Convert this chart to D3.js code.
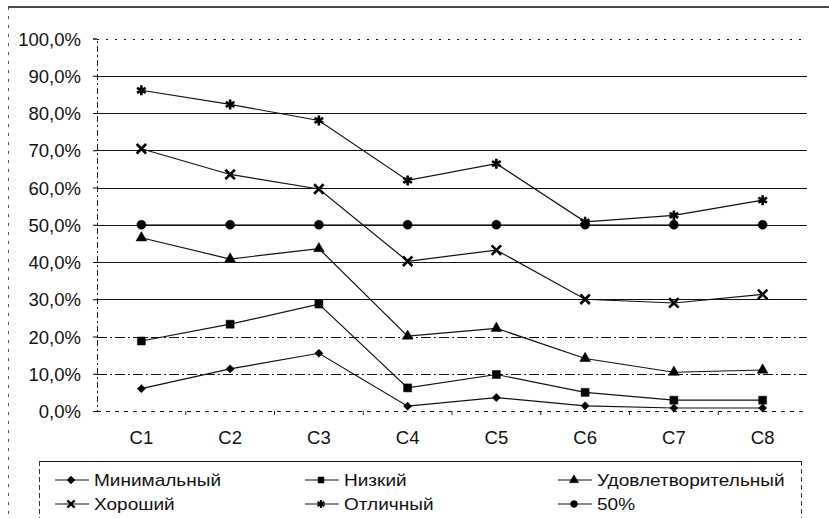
<!DOCTYPE html>
<html>
<head>
<meta charset="utf-8">
<script src="https://cdn.jsdelivr.net/npm/d3@7"></script>
<style>
  body { margin: 0; background: #fff; }
  svg text { font-family: "Liberation Sans", Arial, sans-serif; fill: #111; }
</style>
</head>
<body>
<div id="chart"></div>
<script>
"use strict"

const categories = ["C1", "C2", "C3", "C4", "C5", "C6", "C7", "C8"];
const minimal = [6.0, 11.3, 15.5, 1.3, 3.6, 1.4, 0.8, 0.8];
const low = [18.8, 23.3, 28.7, 6.2, 9.8, 5.0, 2.9, 2.9];
const satisfactory = [46.5, 40.8, 43.6, 20.1, 22.2, 14.1, 10.4, 11.0];
const good = [70.4, 63.5, 59.6, 40.2, 43.2, 30.0, 29.0, 31.3];
const excellent = [86.1, 82.3, 78.0, 61.9, 66.4, 50.8, 52.5, 56.6];
const half = [50, 50, 50, 50, 50, 50, 50, 50];
const seriesNames = ["Минимальный", "Низкий", "Удовлетворительный", "Хороший", "Отличный", "50%"];
const yTicks = [0, 10, 20, 30, 40, 50, 60, 70, 80, 90, 100];

const width = 829,
    height = 518;

const svg = d3.select("#chart").append("svg")
    .attr("width", width)
    .attr("height", height);

const x = d3.scaleBand()
    .domain(categories)
    .range([97, 807]);
const y = d3.scaleLinear()
    .domain([0, 100])
    .range([411, 38.5]);

const cx = c => x(c) + x.bandwidth() / 2;

// рамка
svg.append("line")
    .attr("x1", 8).attr("x2", width).attr("y1", 7).attr("y2", 7)
    .attr("stroke", "#111").attr("stroke-width", 1.3);
svg.append("line")
    .attr("x1", 8.5).attr("x2", 8.5).attr("y1", 7).attr("y2", height)
    .attr("stroke", "#555").attr("stroke-width", 1)
    .attr("stroke-dasharray", "3,6");

// сетка
svg.append("g")
    .selectAll("line")
    .data(yTicks)
    .join("line")
    .attr("x1", 97).attr("x2", 807)
    .attr("y1", d => Math.round(y(d)) + 0.5)
    .attr("y2", d => Math.round(y(d)) + 0.5)
    .attr("stroke", "#111")
    .attr("stroke-width", d => d === 100 || d === 0 ? 1 : 1.2)
    .attr("stroke-dasharray", d => d === 100 ? "2,7" : d === 0 ? "4,5" : (d === 10 || d === 20) ? "10,3,2,3" : null);

// ось Y
const yAxis = d3.axisLeft(y)
    .tickValues(yTicks)
    .tickSize(4)
    .tickPadding(12)
    .tickFormat(d => d3.format(".1f")(d).replace(".", ",") + "%");
const gy = svg.append("g")
    .attr("transform", "translate(97,0)")
    .call(yAxis);
gy.select(".domain").attr("stroke", "#222").attr("stroke-dasharray", "6,3,2,3");
gy.selectAll("text").attr("font-size", 18.5).attr("dy", "0.36em");

// ось X
const xAxis = d3.axisBottom(x)
    .tickSize(0)
    .tickPadding(20);
const gx = svg.append("g")
    .attr("transform", "translate(0,411)")
    .call(xAxis);
gx.select(".domain").remove();
gx.selectAll("text").attr("font-size", 18.5);
gx.selectAll("line.sep")
    .data(categories.slice(1))
    .join("line")
    .attr("class", "sep")
    .attr("x1", d => x(d)).attr("x2", d => x(d))
    .attr("y1", 0).attr("y2", 4)
    .attr("stroke", "#222");

// маркеры
const diamond = {
    draw(ctx, size) {
        const r = Math.sqrt(size) / 2 * 1.3;
        ctx.moveTo(0, -r);
        ctx.lineTo(r, 0);
        ctx.lineTo(0, r);
        ctx.lineTo(-r, 0);
        ctx.closePath();
    }
};
const symbols = [
    d3.symbol().type(diamond).size(40),
    d3.symbol().type(d3.symbolSquare).size(64),
    d3.symbol().type(d3.symbolTriangle).size(50),
    d3.symbol().type(d3.symbolX).size(60),
    d3.symbol().type(d3.symbolAsterisk).size(70),
    d3.symbol().type(d3.symbolCircle).size(64)
];
const strokeSym = [false, false, false, true, true, false];

const allSeries = [minimal, low, satisfactory, good, excellent, half];
const line = d3.line()
    .x((d, i) => cx(categories[i]))
    .y(d => y(d));

const drawOrder = [5, 0, 1, 2, 3, 4];
drawOrder.forEach(s => {
    const vals = allSeries[s];
    const g = svg.append("g");
    g.append("path")
        .attr("d", line(vals))
        .attr("fill", "none")
        .attr("stroke", "#111")
        .attr("stroke-width", s === 5 ? 0.8 : 1.2);
    g.selectAll("path.m")
        .data(vals)
        .join("path")
        .attr("class", "m")
        .attr("transform", (d, i) => "translate(" + cx(categories[i]) + "," + y(d) + ")")
        .attr("d", symbols[s]())
        .attr("fill", strokeSym[s] ? "none" : "#000")
        .attr("stroke", "#000")
        .attr("stroke-width", strokeSym[s] ? 2.6 : 0.5);
});

// легенда
const legend = svg.append("g");
legend.append("line")
    .attr("x1", 39).attr("x2", 802).attr("y1", 461.5).attr("y2", 461.5)
    .attr("stroke", "#111").attr("stroke-width", 1.2);
legend.append("line")
    .attr("x1", 39.5).attr("x2", 39.5).attr("y1", 461).attr("y2", height)
    .attr("stroke", "#333").attr("stroke-dasharray", "5,3");
legend.append("line")
    .attr("x1", 801.5).attr("x2", 801.5).attr("y1", 461).attr("y2", height)
    .attr("stroke", "#333").attr("stroke-dasharray", "5,3");

const colX = [55, 305, 558];
const rowY = [480, 504];
seriesNames.forEach((name, i) => {
    const lx = colX[i % 3], ly = rowY[Math.floor(i / 3)];
    const item = legend.append("g").attr("transform", "translate(" + lx + "," + ly + ")");
    item.append("line")
        .attr("x1", 0).attr("x2", 34).attr("y1", 0).attr("y2", 0)
        .attr("stroke", "#111").attr("stroke-width", 1.2);
    item.append("path")
        .attr("transform", "translate(16,0)")
        .attr("d", symbols[i].size(i === 4 ? 45 : 36)())
        .attr("fill", strokeSym[i] ? "none" : "#000")
        .attr("stroke", "#000")
        .attr("stroke-width", strokeSym[i] ? 2.2 : 0.5);
    item.append("text")
        .attr("transform", "translate(39,0) scale(1.12,1)")
        .attr("dy", "0.36em")
        .attr("font-size", 17)
        .text(name);
});
</script>
</body>
</html>
